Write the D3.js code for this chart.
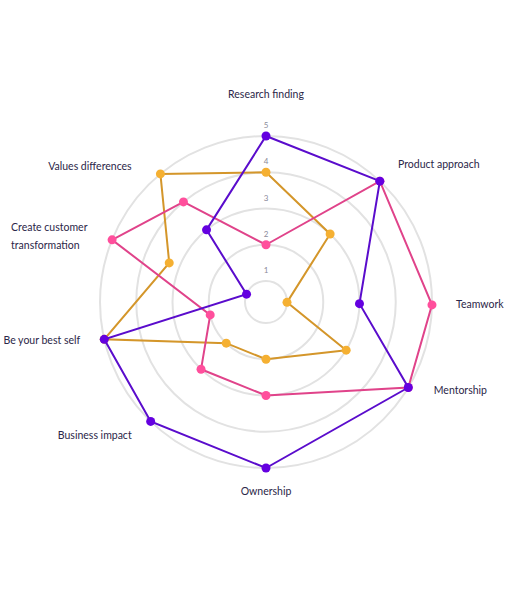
<!DOCTYPE html>
<html>
<head>
<meta charset="utf-8">
<script src="https://cdn.jsdelivr.net/npm/d3@7"></script>
<style>
  html, body { margin: 0; padding: 0; background: #fff; }
  svg { display: block; font-family: Lato, "Noto Sans", sans-serif; }
</style>
</head>
<body>
<div id="chart"></div>
<script>
// Kategorien (im Uhrzeigersinn ab oben)
const categories = [
  "Research finding", "Product approach", "Teamwork", "Mentorship", "Ownership",
  "Business impact", "Be your best self", "Create customer transformation", "Values differences"
];
const ringValues = [1, 2, 3, 4, 5];

// Serien-Werte (1..5)
const purpleValues = [5, 5, 3, 5, 5, 5, 5, 1, 3];
const pinkValues   = [2, 5, 5, 5, 3, 3, 2, 5, 4];
const orangeValues = [4, 3, 1, 3, 2, 2, 5, 3.3, 5];

const series = [
  { key: "orange", values: orangeValues, line: "#d4962a", dot: "#f5b032" },
  { key: "pink",   values: pinkValues,   line: "#e0438a", dot: "#ff4f9c" },
  { key: "purple", values: purpleValues, line: "#5a0ccc", dot: "#6400e0" }
];

const W = 515, H = 600;
const cx = 266, cy = 302;

const svg = d3.select("#chart").append("svg")
  .attr("width", W).attr("height", H);
const g = svg.append("g").attr("transform", `translate(${cx},${cy})`);

// Radius-Skala: Ring 1 liegt nicht im Mittelpunkt
const r = d3.scaleLinear().domain([1, 5]).range([21, 166]);

// Winkel der Achsen (Grad, im Uhrzeigersinn ab oben) – wie im Original leicht ungleichmäßig
const angle = d3.scaleOrdinal()
  .domain(categories)
  .range([0, 43.3, 91, 121, 180, 224, 257, 292, 320.5]);
const labelAngle = d3.scaleOrdinal()
  .domain(categories)
  .range([0, 44, 91, 118, 180, 225, 258, 290, 315]);

const toXY = (deg, rad) => {
  const a = deg * Math.PI / 180;
  return [rad * Math.sin(a), -rad * Math.cos(a)];
};

// Ringe
g.selectAll(".ring")
  .data(ringValues)
  .enter().append("circle")
  .attr("class", "ring")
  .attr("r", d => r(d))
  .attr("fill", "none")
  .attr("stroke", "#e2e2e2")
  .attr("stroke-width", 2);

// Ring-Beschriftung
g.selectAll(".ringLabel")
  .data(ringValues)
  .enter().append("text")
  .attr("class", "ringLabel")
  .attr("x", 0)
  .attr("y", d => -r(d) - 10)
  .attr("text-anchor", "middle")
  .attr("dominant-baseline", "middle")
  .attr("font-size", 8)
  .attr("fill", "#8a8a99")
  .text(d => d);

// Linien + Punkte
const line = d3.line().curve(d3.curveLinearClosed);
series.forEach(s => {
  const pts = categories.map((c, i) => toXY(angle(c), r(s.values[i])));
  g.append("path")
    .attr("d", line(pts))
    .attr("fill", "none")
    .attr("stroke", s.line)
    .attr("stroke-width", 2);
  g.selectAll(".dot-" + s.key)
    .data(pts)
    .enter().append("circle")
    .attr("class", "dot-" + s.key)
    .attr("cx", d => d[0])
    .attr("cy", d => d[1])
    .attr("r", 4.5)
    .attr("fill", s.dot);
});

// Achsen-Beschriftung
const labelR = 190;
categories.forEach(c => {
  const deg = labelAngle(c);
  const [x, y0] = toXY(deg, labelR);
  const s = Math.sin(deg * Math.PI / 180);
  const y = deg === 0 ? y0 - 17 : y0;
  const anchor = s > 0.1 ? "start" : (s < -0.1 ? "end" : "middle");
  const words = c === "Create customer transformation" ? ["Create customer", "transformation"] : [c];
  const t = g.append("text")
    .attr("font-size", 10.5)
    .attr("fill", "#2b2648")
    .attr("dominant-baseline", "middle");
  if (words.length === 1) {
    t.attr("x", x).attr("y", y).attr("text-anchor", anchor).text(c);
  } else {
    // mehrzeilig, linksbündig, Block rechts an der Position ausgerichtet
    const lh = 18;
    const spans = words.map((w, i) => t.append("tspan")
      .attr("y", y + (i - (words.length - 1) / 2) * lh)
      .text(w));
    const maxW = d3.max(spans, sp => sp.node().getComputedTextLength());
    spans.forEach(sp => sp.attr("x", x - maxW));
  }
});
</script>
</body>
</html>
